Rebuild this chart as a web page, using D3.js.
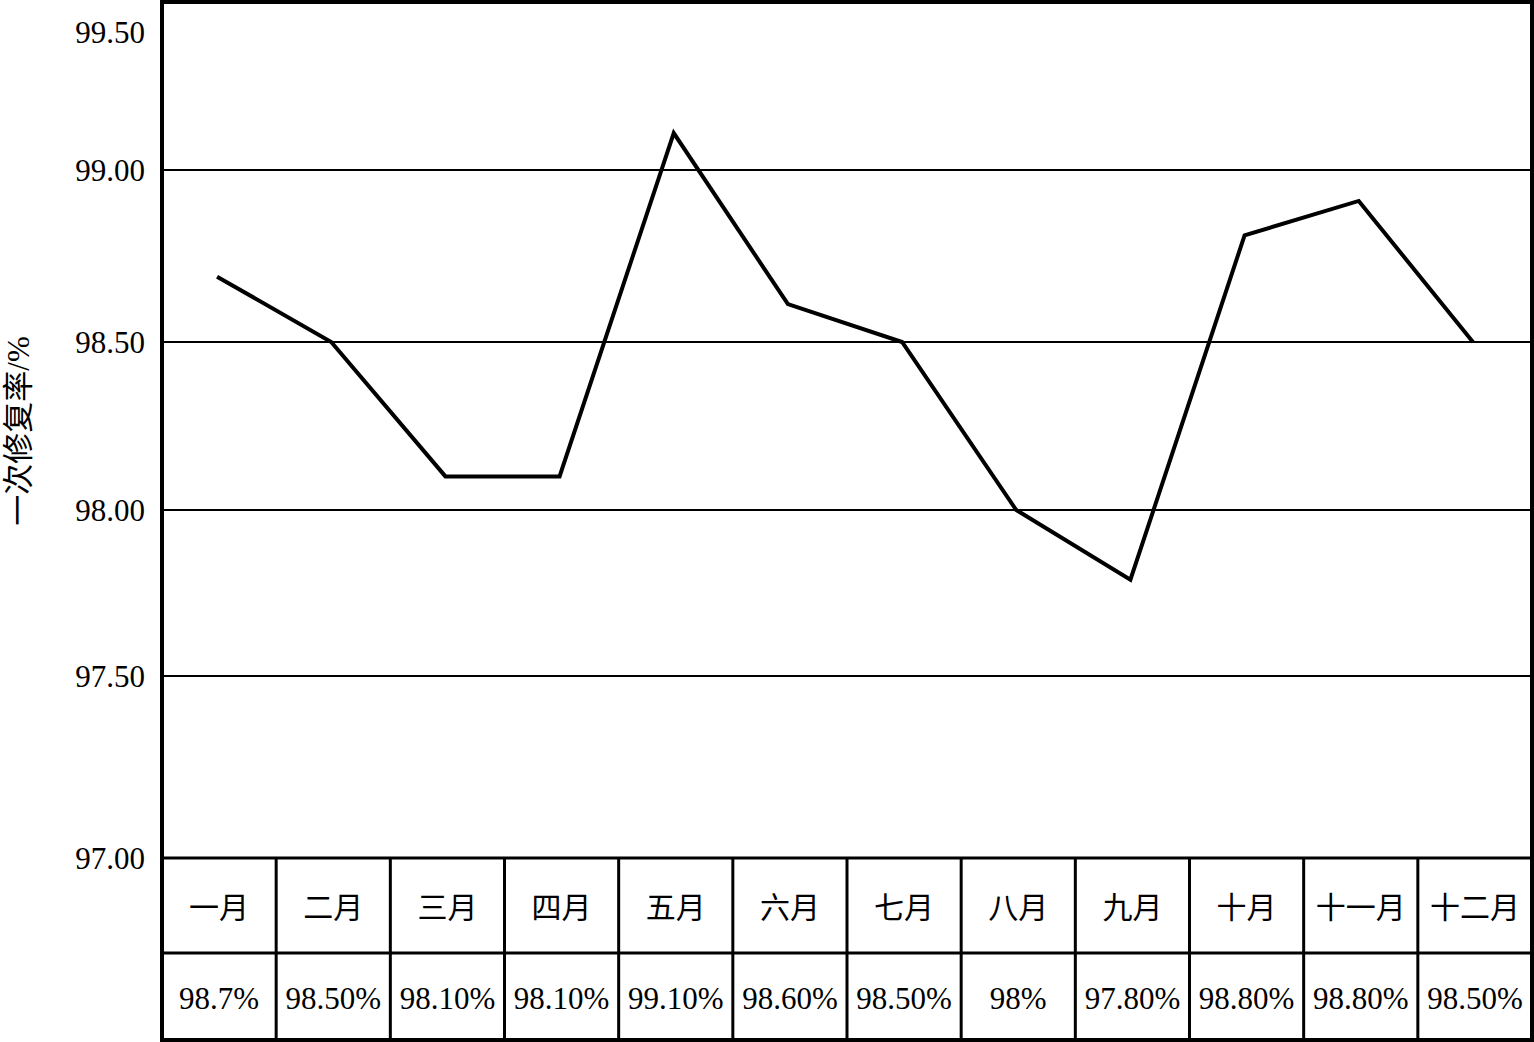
<!DOCTYPE html>
<html><head><meta charset="utf-8">
<script src="https://cdn.jsdelivr.net/npm/d3@7"></script>
<style>html,body{margin:0;padding:0;background:#fff;}</style>
</head><body>
<svg id="c" width="1534" height="1042"></svg>
<script>
const months = ["一月","二月","三月","四月","五月","六月","七月","八月","九月","十月","十一月","十二月"];
const values = [98.69, 98.5, 98.1, 98.1, 99.11, 98.61, 98.5, 98.0, 97.79, 98.81, 98.91, 98.5];
const tableLabels = ["98.7%","98.50%","98.10%","98.10%","99.10%","98.60%","98.50%","98%","97.80%","98.80%","98.80%","98.50%"];
const yTicks = [97.00, 97.50, 98.00, 98.50, 99.00, 99.50];
const yTitle = "一次修复率/%";

const svg = d3.select("#c");
const L = 162, R = 1532, T = 2, B0 = 858, B1 = 953, B2 = 1040;
const font = "'Liberation Serif','Times New Roman','Noto Sans CJK SC',serif";

const x = d3.scaleBand().domain(months).range([L, R]);
// piecewise scale to follow the reference's slightly uneven gridline spacing
const y = d3.scaleLinear().domain(yTicks).range([B0, 676, 510, 342, 170, T]);

// gridlines
svg.append("g").selectAll("line").data(yTicks.filter(v => v > 97 && v < 99.5)).join("line")
  .attr("x1", L).attr("x2", R).attr("y1", d => y(d)).attr("y2", d => y(d))
  .attr("stroke", "#000").attr("stroke-width", 2);

// y labels
svg.append("g").selectAll("text").data(yTicks).join("text")
  .attr("x", 145).attr("y", d => Math.max(y(d), 32))
  .attr("text-anchor", "end").attr("dominant-baseline", "central")
  .attr("font-family", font).attr("font-size", 31).attr("fill", "#000")
  .text(d => d.toFixed(2));

// y title
svg.append("text")
  .attr("transform", "translate(18,431) rotate(-90)")
  .attr("text-anchor", "middle").attr("dominant-baseline", "central")
  .attr("font-family", font).attr("font-size", 31).attr("fill", "#000")
  .text(yTitle);

// line
const line = d3.line().x((d, i) => x(months[i]) + x.bandwidth() / 2 - 2).y(d => y(d));
svg.append("path").datum(values).attr("d", line)
  .attr("fill", "none").attr("stroke", "#000").attr("stroke-width", 4)
  .attr("stroke-linejoin", "miter");

// table
const tg = svg.append("g");
tg.append("line").attr("x1", L).attr("x2", R).attr("y1", B0).attr("y2", B0).attr("stroke", "#000").attr("stroke-width", 3);
tg.append("line").attr("x1", L).attr("x2", R).attr("y1", B1).attr("y2", B1).attr("stroke", "#000").attr("stroke-width", 3);
tg.selectAll("line.v").data(months.slice(1)).join("line").attr("class", "v")
  .attr("x1", d => x(d)).attr("x2", d => x(d)).attr("y1", B0).attr("y2", B2)
  .attr("stroke", "#000").attr("stroke-width", 3);
tg.selectAll("text.m").data(months).join("text").attr("class", "m")
  .attr("x", d => x(d) + x.bandwidth() / 2).attr("y", (B0 + B1) / 2 + 2)
  .attr("text-anchor", "middle").attr("dominant-baseline", "central")
  .attr("font-family", font).attr("font-size", 30).attr("fill", "#000")
  .text(d => d);
tg.selectAll("text.v").data(tableLabels).join("text").attr("class", "v")
  .attr("x", (d, i) => x(months[i]) + x.bandwidth() / 2).attr("y", (B1 + B2) / 2 + 2)
  .attr("text-anchor", "middle").attr("dominant-baseline", "central")
  .attr("font-family", font).attr("font-size", 31).attr("fill", "#000")
  .text(d => d);

// frame
svg.append("rect").attr("x", L).attr("y", T).attr("width", R - L).attr("height", B2 - T)
  .attr("fill", "none").attr("stroke", "#000").attr("stroke-width", 4);
</script>
</body></html>
